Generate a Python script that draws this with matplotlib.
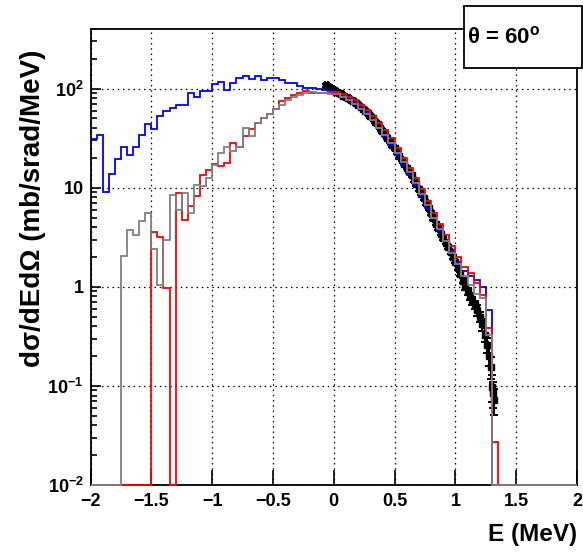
import numpy as np
import matplotlib
matplotlib.use("Agg")
import matplotlib.pyplot as plt
from matplotlib.patches import Rectangle
from matplotlib.ticker import FixedLocator, FixedFormatter, NullLocator, LogLocator

plt.rcParams["font.family"] = ["Liberation Sans", "DejaVu Sans"]
plt.rcParams["font.weight"] = "bold"
plt.rcParams["mathtext.fontset"] = "custom"
plt.rcParams["mathtext.rm"] = "Liberation Sans:bold"
plt.rcParams["mathtext.bf"] = "Liberation Sans:bold"
plt.rcParams["mathtext.it"] = "Liberation Sans:italic"

# Histogram bins: 80 bins of 0.05 MeV from -2 to 2
n_bins = 80
e_min, e_max = -2.0, 2.0

# Blue histogram (bins -2.00 ... 1.95)
blue_vals = [
    31, 34, 9.1, 13.7, 19.5, 25.7, 21.2, 25.7, 34, 44,
    39.4, 52.5, 60, 63.8, 67.7, 67.7, 90, 81.7, 95.5, 95.5,
    112, 118, 96, 114, 128, 135, 125, 135, 121, 128,
    128, 121, 114, 114, 107, 102, 102, 99, 96, 94,
    91, 85, 79, 72, 65, 57, 48, 40, 33, 27,
    21.5, 17, 13.5, 10.6, 8.2, 6.3, 4.8, 3.7, 2.9, 2.3,
    1.8, 1.45, 1.29, 1.16, 1.0, 0.58, 0, 0, 0, 0,
    0, 0, 0, 0, 0, 0, 0, 0, 0, 0,
]

# Red histogram
red_vals = [
    0, 0, 0, 0, 0, 0, 0, 0, 0, 0,
    3.57, 3.16, 0.97, 0, 8.8, 4.75, 6.6, 8.2, 13.5, 15.2,
    17.5, 16.7, 17.7, 28.3, 25.8, 33.5, 39, 45, 50.6, 55.8,
    62.3, 74.5, 80.5, 87, 90.4, 95.5, 90, 90, 91, 92,
    93, 88, 82, 76, 69, 61, 53, 45.5, 38, 31.5,
    25, 20, 15.8, 12.5, 9.6, 7.4, 5.6, 4.3, 3.3, 2.6,
    2.0, 1.58, 1.37, 1.09, 0.83, 0.385, 0.027, 0, 0, 0,
    0, 0, 0, 0, 0, 0, 0, 0, 0, 0,
]

# Gray histogram
gray_vals = [
    0, 0, 0, 0, 0, 2.07, 3.77, 3.35, 4.57, 5.55,
    2.42, 1.05, 2.94, 8.5, 6.0, 8.8, 5.5, 10.7, 10.3, 12.5,
    17, 22.4, 25.8, 23.3, 25.8, 40, 33, 45, 50.6, 55.8,
    62.3, 69, 76, 82.5, 87, 90.4, 92, 90, 90, 89,
    88, 83, 77, 70, 63, 56, 48, 40.5, 34, 28,
    22.5, 18, 14.3, 11.2, 8.7, 6.7, 5.0, 3.8, 2.9, 2.2,
    1.7, 1.3, 1.05, 0.85, 0.78, 0.33, 0, 0, 0, 0,
    0, 0, 0, 0, 0, 0, 0, 0, 0, 0,
]

# Measured data points
data_e = [
    -0.06, -0.04, -0.02, 0.00, 0.02, 0.04, 0.06, 0.08, 0.10, 0.12,
    0.14, 0.16, 0.18, 0.20, 0.22, 0.24, 0.26, 0.28, 0.30, 0.32,
    0.34, 0.36, 0.38, 0.40, 0.42, 0.44, 0.46, 0.48, 0.50, 0.52,
    0.54, 0.56, 0.58, 0.60, 0.62, 0.64, 0.66, 0.68, 0.70, 0.72,
    0.74, 0.76, 0.78, 0.80, 0.82, 0.84, 0.86, 0.88, 0.90, 0.92,
    0.94, 0.96, 0.98, 1.00, 1.02, 1.04, 1.06, 1.08, 1.10, 1.12,
    1.14, 1.16, 1.18, 1.20, 1.22, 1.24, 1.26, 1.28, 1.29, 1.30,
    1.31, 1.32,
]
data_y = [
    108, 103, 99, 96, 93, 91, 88, 85, 82, 80,
    77, 74.5, 72, 69, 66, 63, 60, 56.5, 53, 50,
    46.5, 43.5, 40.5, 37.5, 34.5, 32, 29.5, 27, 25, 23,
    21, 19.2, 17.5, 16, 14.6, 13.3, 12, 10.8, 9.7, 8.7,
    7.8, 7.0, 6.2, 5.5, 4.9, 4.35, 3.9, 3.45, 3.1, 2.8,
    2.5, 2.25, 2.0, 1.8, 1.55, 1.35, 1.15, 1.0, 0.9, 0.8,
    0.72, 0.66, 0.58, 0.5, 0.42, 0.33, 0.26, 0.2, 0.157, 0.098,
    0.085, 0.072,
]
data_rel_err = [0.04] * 56 + [0.06, 0.07, 0.08, 0.09, 0.1, 0.1, 0.12, 0.12,
                               0.14, 0.16, 0.18, 0.2, 0.25, 0.3, 0.3, 0.3]

ymin, ymax = 0.01, 400

edges = np.linspace(e_min, e_max, n_bins + 1)


def floor_zero(vals):
    v = np.asarray(vals, dtype=float)
    return np.where(v > 0, v, ymin)


fig = plt.figure(figsize=(5.83, 5.53), dpi=100)
ax = fig.add_axes([90.5 / 583, 68 / 553, (577 - 90.5) / 583, (485 - 29) / 553])
ax.set_yscale("log")
ax.set_xlim(e_min, e_max)
ax.set_ylim(ymin, ymax)

# Data points
dy = np.asarray(data_rel_err) * np.asarray(data_y)
ax.errorbar(data_e, data_y, yerr=dy, xerr=0.012, fmt="s", color="black",
            ms=4.4, elinewidth=1.5, capsize=3, capthick=1.4, zorder=3)

# Histograms (drawn over the data, like ROOT "same")
for vals, col in [(blue_vals, "#0000ff"), (red_vals, "#ff0000"), (gray_vals, "#808080")]:
    ax.stairs(floor_zero(vals), edges, baseline=None, color=col, lw=1.3,
              clip_on=False, zorder=4)

# Ticks
ax.xaxis.set_major_locator(FixedLocator([-2, -1.5, -1, -0.5, 0, 0.5, 1, 1.5, 2]))
ax.xaxis.set_major_formatter(FixedFormatter(["\u22122", "\u22121.5", "\u22121", "\u22120.5",
                                             "0", "0.5", "1", "1.5", "2"]))
ax.xaxis.set_minor_locator(NullLocator())
ax.yaxis.set_major_locator(FixedLocator([0.01, 0.1, 1, 10, 100]))
ax.yaxis.set_major_formatter(FixedFormatter([r"$10^{-2}$", r"$10^{-1}$", "1", "10", r"$10^{2}$"]))
ax.yaxis.set_minor_locator(LogLocator(base=10, subs=np.arange(2, 10)))
ax.tick_params(axis="both", which="both", direction="in", top=False, right=False,
               labelsize=13, width=1.2, colors="black")
ax.tick_params(axis="x", which="major", length=11, pad=6)
ax.tick_params(axis="y", which="major", length=7.5, pad=5)
ax.tick_params(axis="y", which="minor", length=4.5)
for lab in ax.get_xticklabels() + ax.get_yticklabels():
    lab.set_fontweight("bold")

ax.grid(True, which="major", color="black", linestyle=(0, (1.2, 3)), lw=0.9)
for s in ax.spines.values():
    s.set_linewidth(1.3)

# Axis titles
fig.text(577 / 583, 1 - 535 / 553, "E (MeV)", ha="right", va="center",
         fontsize=17.5, fontweight="bold")
fig.text(33 / 583, 1 - 208 / 553, "d\u03c3/dEd\u03a9 (mb/srad/MeV)", rotation=90,
         ha="center", va="center", fontsize=20, fontweight="bold")

# Angle label box
box = Rectangle((464 / 583, 1 - 68 / 553), (582 - 464) / 583, (68 - 6) / 553,
                transform=fig.transFigure, facecolor="white", edgecolor="black",
                lw=1.3, zorder=10)
fig.add_artist(box)
fig.text(467 / 583, 1 - 37 / 553, r"$\mathrm{\theta}$ = 60$^{\mathrm{o}}$", ha="left",
         va="center", fontsize=16, fontweight="bold", zorder=11)

fig.savefig("out.png", dpi=100)
